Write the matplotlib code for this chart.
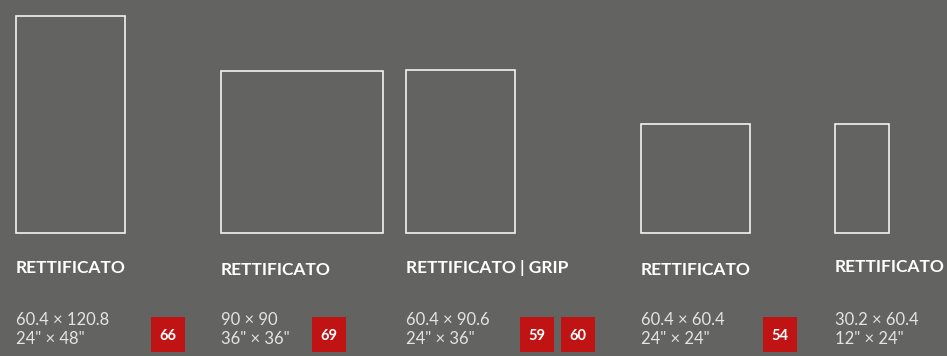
import matplotlib
matplotlib.use("Agg")
import matplotlib.pyplot as plt
from matplotlib.patches import Rectangle

# ---- data ----
titles = ["RETTIFICATO", "RETTIFICATO", "RETTIFICATO | GRIP", "RETTIFICATO", "RETTIFICATO"]
sizes_cm_label = ["60.4 × 120.8", "90 × 90", "60.4 × 90.6", "60.4 × 60.4", "30.2 × 60.4"]
sizes_in_label = ['24" × 48"', '36" × 36"', '24" × 36"', '24" × 24"', '12" × 24"']
widths_cm = [60.4, 90, 60.4, 60.4, 30.2]
heights_cm = [120.8, 90, 90.6, 60.4, 60.4]
codes = [["66"], ["69"], ["59", "60"], ["54"], []]

# ---- layout (pixels) ----
W, H = 947, 356
col_x = [16, 221, 406, 641, 835]
title_y = [273, 275, 273, 275, 272]
code_x = [[151], [312], [520, 561], [763], []]
base_y = 233
scale = 1.8
box_w, box_h, box_top = 34, 35, 317

bg = "#636361"
red = "#c01414"
line_col = "#f2f2f2"
text_col = "#e4e4e4"

fig = plt.figure(figsize=(W / 100, H / 100), dpi=100)
fig.patch.set_facecolor(bg)
ax = fig.add_axes([0, 0, 1, 1])
ax.set_facecolor(bg)
ax.set_xlim(0, W)
ax.set_ylim(H, 0)
ax.axis("off")

for i in range(len(titles)):
    w = widths_cm[i] * scale
    h = heights_cm[i] * scale
    ax.add_patch(Rectangle((col_x[i], base_y - h), w, h, fill=False,
                           edgecolor=line_col, linewidth=1.2))
    ax.text(col_x[i], title_y[i], titles[i], color="white", fontsize=12.5,
            fontweight="bold", family="Lato", va="baseline", ha="left")
    ax.text(col_x[i], 325, sizes_cm_label[i], color=text_col, fontsize=12,
            fontweight="normal", family="Lato", va="baseline", ha="left")
    ax.text(col_x[i], 344, sizes_in_label[i], color=text_col, fontsize=12,
            fontweight="normal", family="Lato", va="baseline", ha="left")
    for c, cx in zip(codes[i], code_x[i]):
        ax.add_patch(Rectangle((cx, box_top), box_w, box_h, facecolor=red,
                               edgecolor="none"))
        ax.text(cx + box_w / 2, box_top + box_h / 2 + 1, c, color="white",
                fontsize=10.5, fontweight="bold", family="Lato",
                ha="center", va="center")

fig.savefig("out.png", dpi=100, facecolor=bg)
